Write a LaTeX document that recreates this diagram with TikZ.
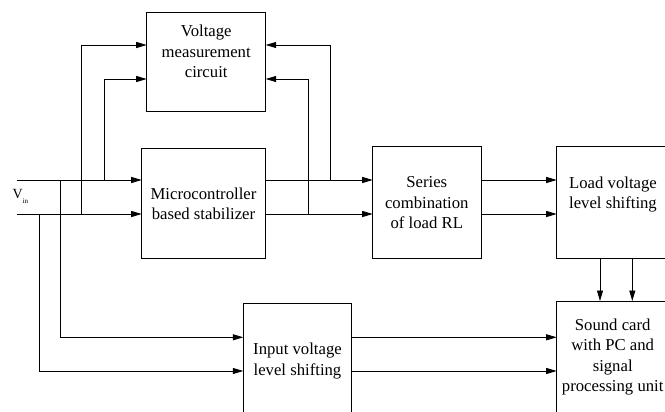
\documentclass[tikz,border=0pt]{standalone}
\usepackage{fontspec}
\setmainfont{Liberation Serif}
\usetikzlibrary{arrows.meta}
\begin{document}
\begin{tikzpicture}[x=1pt,y=-1pt,
  box/.style={draw,line width=0.8pt,inner sep=0pt,outer sep=0pt},
  txt/.style={align=center,inner sep=0pt,font=\fontsize{16.7}{20.5}\selectfont},
  arr/.style={line width=0.8pt,-{Triangle[length=10.5pt,width=6pt]}}]
\useasboundingbox (0,0) rectangle (665,412);
% boxes
\node[box,minimum width=119pt,minimum height=99.4pt] (vm) at (206.2,62) {};
\node[box,minimum width=124pt,minimum height=110pt] (mc) at (203.7,203.3) {};
\node[box,minimum width=109pt,minimum height=111.6pt] (ser) at (427.2,202.5) {};
\node[box,minimum width=112pt,minimum height=111.6pt] (load) at (612.7,202.5) {};
\node[box,minimum width=112pt,minimum height=119pt] (snd) at (612.7,360.5) {};
\node[box,minimum width=108.4pt,minimum height=116.7pt] (ivl) at (297.5,361.7) {};
% texts
\node[txt] (tvm) at (206.2,51.5) {Voltage\\measurement\\circuit};
\node[txt] (tmc) at (203.5,204) {Microcontroller\\based stabilizer};
\node[txt] (tser) at (426.8,203) {Series\\combination\\of load RL};
\node[txt] (tload) at (613,194.5) {Load voltage\\level shifting};
\node[txt] (tsnd) at (612.7,357) {Sound card\\with PC and\\signal\\processing unit};
\node[txt] (tivl) at (297.5,361) {Input voltage\\level shifting};
\node[anchor=base west,inner sep=0pt,font=\fontsize{14}{14}\selectfont] (vin) at (12.4,198.6) {V\raisebox{-4.5pt}{\fontsize{7}{7}\selectfont in}};
% coordinates
\coordinate (r45) at (0,45);
\coordinate (r79) at (0,79);
\coordinate (r180) at (0,180);
\coordinate (r214) at (0,214);
\coordinate (r337) at (0,337.3);
\coordinate (r371) at (0,371);
\coordinate (c600) at (600,0);
\coordinate (c632) at (632.3,0);
\coordinate (in1) at (16.7,180);
\coordinate (in2) at (16.7,214);
\coordinate (ja) at (81.7,214);
\coordinate (jb) at (104,180);
\coordinate (jc) at (60,180);
\coordinate (jd) at (39.3,214);
\coordinate (je) at (330,180);
\coordinate (jf) at (308.3,214);
% connectors
\draw[arr] (in1) -- (mc.west |- in1);
\draw[arr] (in2) -- (mc.west |- in2);
\draw[arr] (ja) |- (vm.west |- r45);
\draw[arr] (jb) |- (vm.west |- r79);
\draw[arr] (jc) |- (ivl.west |- r337);
\draw[arr] (jd) |- (ivl.west |- r371);
\draw[arr] (mc.east |- r180) -- (ser.west |- r180);
\draw[arr] (mc.east |- r214) -- (ser.west |- r214);
\draw[arr] (je) |- (vm.east |- r45);
\draw[arr] (jf) |- (vm.east |- r79);
\draw[arr] (ser.east |- r180) -- (load.west |- r180);
\draw[arr] (ser.east |- r214) -- (load.west |- r214);
\draw[arr] (load.south -| c600) -- (snd.north -| c600);
\draw[arr] (load.south -| c632) -- (snd.north -| c632);
\draw[arr] (ivl.east |- r337) -- (snd.west |- r337);
\draw[arr] (ivl.east |- r371) -- (snd.west |- r371);
\end{tikzpicture}
\end{document}
